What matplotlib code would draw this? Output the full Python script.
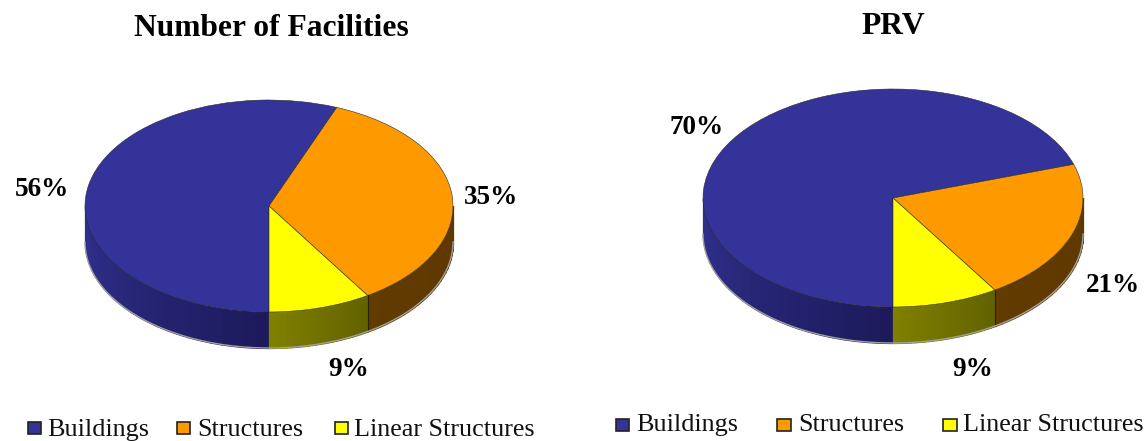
import matplotlib
matplotlib.use('Agg')
import matplotlib.pyplot as plt
from matplotlib.patches import Rectangle
import numpy as np

plt.rcParams['font.family'] = ['Liberation Serif', 'DejaVu Serif']

W, H = 1146, 441

categories = ['Buildings', 'Structures', 'Linear Structures']
facilities = [56, 35, 9]
prv = [70, 21, 9]

top_colors = ['#333399', '#FF9900', '#FFFF00']
# side wall colours, (left end, right end) of each slice
side_colors = [((0.19, 0.19, 0.56), (0.11, 0.10, 0.35)),
               ((0.38, 0.23, 0.0), (0.37, 0.22, 0.0)),
               ((0.50, 0.50, 0.0), (0.38, 0.38, 0.0))]


def fx(x):
    return x / W


def fy(y):
    return 1 - y / H


def pie3d(fig, values, cx, cy, rx, ry, depth):
    """draws a flattened pie with a side wall"""
    ax = fig.add_axes([fx(cx - rx), fy(cy + ry), 2 * rx / W, 2 * ry / H])
    d = depth / ry

    # slice edges in degrees, clockwise from 6 o'clock
    edges = -90 - np.cumsum([0] + list(values)) * 3.6

    # wall first, only the lower half shows
    for i in range(len(values)):
        for shift, win_lo, win_hi in [(0, -180, -90), (360, -90, 0)]:
            lo = max(edges[i + 1] + shift, win_lo)
            hi = min(edges[i] + shift, win_hi)
            if lo >= hi:
                continue
            ts = np.linspace(lo, hi, 25)
            c0, c1 = np.array(side_colors[i][0]), np.array(side_colors[i][1])
            for a, b in zip(ts[:-1], ts[1:]):
                frac = (a - lo) / (hi - lo)
                t = np.radians(np.linspace(a, b, 4))
                ax.fill_between(np.cos(t), np.sin(t), np.sin(t) - d,
                                color=c0 * (1 - frac) + c1 * frac, lw=0.9,
                                clip_on=False)
            # dark line where slices meet on the wall
            if lo > -180 and lo != -90:
                t = np.radians(lo)
                ax.plot([np.cos(t)] * 2, [np.sin(t), np.sin(t) - d],
                        color='#2a2000', lw=0.8, clip_on=False)

    # rough grey edge under the wall
    t = np.radians(np.linspace(-180, 0, 200))
    ax.plot(np.cos(t), np.sin(t) - d, color='#a0a0a0', lw=1.0, clip_on=False)

    wedges, _ = ax.pie(values, colors=top_colors, startangle=-90,
                       counterclock=False, radius=1,
                       wedgeprops={'edgecolor': '#2b2b2b', 'linewidth': 0.4})
    for w in wedges:
        w.set_clip_on(False)
    ax.set_aspect('auto')
    ax.set_xlim(-1, 1)
    ax.set_ylim(-1, 1)
    ax.axis('off')
    return ax


def legend_row(fig, boxes, labels, y, text_y):
    for (x0, x1, tx), label, col in zip(boxes, labels, top_colors):
        fig.add_artist(Rectangle((fx(x0), fy(y + 6)), (x1 - x0) / W, 12 / H,
                                 transform=fig.transFigure, facecolor=col,
                                 edgecolor='#222222', linewidth=1.2))
        fig.text(fx(tx), fy(text_y), label, fontsize=18.8, ha='left', va='center',
                 color='#111111')


fig = plt.figure(figsize=(W / 100, H / 100), dpi=100)

pie3d(fig, facilities, 269, 206, 184, 106, 36)
pie3d(fig, prv, 893, 198, 190, 109, 36)

title_font = {'fontsize': 22.7, 'fontweight': 'bold', 'ha': 'center', 'va': 'center'}
fig.text(fx(271), fy(28), 'Number of Facilities', **title_font)
fig.text(fx(893), fy(27), 'PRV', **title_font)

pct_font = {'fontsize': 19.5, 'fontweight': 'bold', 'ha': 'center', 'va': 'center'}
for v, (x, y) in zip(facilities, [(42, 189), (491, 197), (349, 369)]):
    fig.text(fx(x), fy(y), f'{v}%', **pct_font)
for v, (x, y) in zip(prv, [(697, 127), (1113, 285), (973, 369)]):
    fig.text(fx(x), fy(y), f'{v}%', **pct_font)

legend_row(fig, [(28, 41, 47), (177, 190, 197), (335, 348, 354)], categories, 428, 430)
legend_row(fig, [(616, 629, 636), (777, 791, 798), (943, 957, 963)], categories, 425, 425)

fig.savefig('out.png', dpi=100)
